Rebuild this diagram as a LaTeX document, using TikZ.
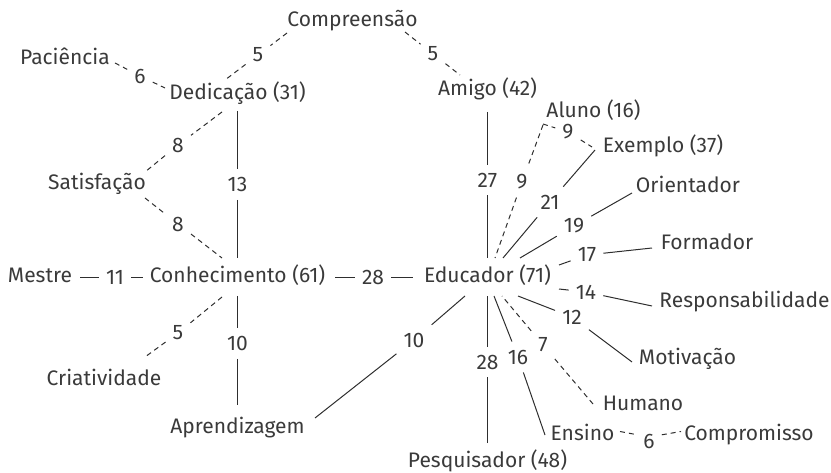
\documentclass[tikz,border=0pt]{standalone}
\usepackage{fontspec}
\setmainfont{Fira Sans}
\usetikzlibrary{calc}
\definecolor{txt}{HTML}{3A3A3A}
\definecolor{ln}{HTML}{2E2E2E}
\tikzset{
  term/.style={anchor=base, text=txt, font=\fontsize{21}{25}\selectfont, text height=15pt, text depth=4pt, inner sep=2pt},
  lab/.style={text=txt, font=\fontsize{21}{25}\selectfont, inner xsep=7pt, inner ysep=8pt},
  se/.style={draw=ln, line width=1pt},
  de/.style={draw=ln, line width=1pt, dash pattern=on 5pt off 4pt},
}
\begin{document}
\begin{tikzpicture}[x=1pt,y=-1pt]
\useasboundingbox (0,0) rectangle (831,473);
% terms
\node[term] (comp) at (352.5,27) {Compreensão};
\node[term] (pac) at (65,65) {Paciência};
\node[term] (ded) at (237.5,100) {Dedicação (31)};
\node[term] (ami) at (487.5,96) {Amigo (42)};
\node[term] (alu) at (593.5,118) {Aluno (16)};
\node[term] (exe) at (663,153) {Exemplo (37)};
\node[term] (sat) at (97,190) {Satisfação};
\node[term] (ori) at (688,193) {Orientador};
\node[term] (fmd) at (707,250) {Formador};
\node[term] (mes) at (40,283) {Mestre};
\node[term] (con) at (237.5,283) {Conhecimento (61)};
\node[term] (edu) at (487.5,283) {Educador (71)};
\node[term] (res) at (744.5,308) {Responsabilidade};
\node[term] (mot) at (687.5,365) {Motivação};
\node[term] (cri) at (104,385) {Criatividade};
\node[term] (apr) at (237.5,433) {Aprendizagem};
\node[term] (hum) at (643,410) {Humano};
\node[term] (ens) at (582.5,440) {Ensino};
\node[term] (cmp) at (749,440) {Compromisso};
\node[term] (pes) at (487.5,467) {Pesquisador (48)};
% labels
\node[lab] (l1) at (258,55) {5};
\node[lab] (l2) at (433,54) {5};
\node[lab] (l3) at (140,76) {6};
\node[lab] (l4) at (178,145) {8};
\node[lab] (l5) at (237.5,184.5) {13};
\node[lab] (l6) at (178,224) {8};
\node[lab] (l7) at (115,277.5) {11};
\node[lab] (l8) at (373,277.5) {28};
\node[lab] (l9) at (178,333) {5};
\node[lab] (l10) at (237.5,343.5) {10};
\node[lab] (l11) at (414,340) {10};
\node[lab] (l12) at (487.5,180) {27};
\node[lab] (l13) at (522,182) {9};
\node[lab] (l14) at (568,132) {9};
\node[lab] (l15) at (550,202) {21};
\node[lab] (l16) at (574,226) {19};
\node[lab] (l17) at (587,255) {17};
\node[lab] (l18) at (586,292) {14};
\node[lab] (l19) at (572,317) {12};
\node[lab] (l20) at (543,345) {7};
\node[lab] (l21) at (518,357) {16};
\node[lab] (l22) at (487.5,362) {28};
\node[lab] (l23) at (649,437) {\raisebox{-4pt}[\height][0pt]{6}};
% connectors
\draw[de] ($(comp)+(-65.5,11.5)$) -- (l1) -- ($(ded)+(-12.5,-14.5)$);
\draw[de] ($(comp)+(52.5,10.5)$) -- (l2) -- ($(ami)+(-27.5,-15.5)$);
\draw[de] ($(pac)+(50,3.5)$) -- (l3) -- ($(ded)+(-72.5,-6.5)$);
\draw[de] ($(ded)+(-15.5,17.5)$) -- (l4) -- ($(sat)+(48,-12.5)$);
\draw[se] ($(ded)+(0,16.5)$) -- (l5) -- ($(con)+(0,-19.5)$);
\draw[de] ($(sat)+(48,13.5)$) -- (l6) -- ($(con)+(-15.5,-19.5)$);
\draw[se] ($(mes)+(40,0)$) -- (l7) -- ($(con)+(-94.5,0)$);
\draw[se] ($(con)+(97.5,0)$) -- (l8) -- ($(edu)+(-74.5,0)$);
\draw[de] ($(con)+(-15.5,19.5)$) -- (l9) -- ($(cri)+(41,-22.5)$);
\draw[se] ($(con)+(0,18.5)$) -- (l10) -- ($(apr)+(0,-22.5)$);
\draw[se] ($(edu)+(-22.5,18.5)$) -- (l11) -- ($(apr)+(77.5,-9.5)$);
\draw[se] ($(ami)+(0,21.5)$) -- (l12) -- ($(edu)+(0,-19.5)$);
\draw[de] ($(alu)+(-50.5,12.5)$) -- (l13) -- ($(edu)+(7.5,-19.5)$);
\draw[de] ($(alu)+(-50.5,11.5)$) -- (l14) -- ($(exe)+(-71,-0.5)$);
\draw[se] ($(exe)+(-68,2.5)$) -- (l15) -- ($(edu)+(15.5,-19.5)$);
\draw[se] ($(ori)+(-56,5.5)$) -- (l16) -- ($(edu)+(32.5,-19.5)$);
\draw[se] ($(fmd)+(-55,3.5)$) -- (l17) -- ($(edu)+(71.5,-12.5)$);
\draw[se] ($(res)+(-92.5,3.5)$) -- (l18) -- ($(edu)+(71.5,11.5)$);
\draw[se] ($(mot)+(-55.5,2.5)$) -- (l19) -- ($(edu)+(30.5,18.5)$);
\draw[de] ($(hum)+(-50,-0.5)$) -- (l20) -- ($(edu)+(14.5,18.5)$);
\draw[se] ($(ens)+(-37.5,0.5)$) -- (l21) -- ($(edu)+(6.5,18.5)$);
\draw[se] ($(pes)+(0,-18.5)$) -- (l22) -- ($(edu)+(0,18.5)$);
\draw[de] ($(ens)+(37.5,-3)$) -- (l23) -- ($(cmp)+(-68,-3)$);
\end{tikzpicture}
\end{document}
